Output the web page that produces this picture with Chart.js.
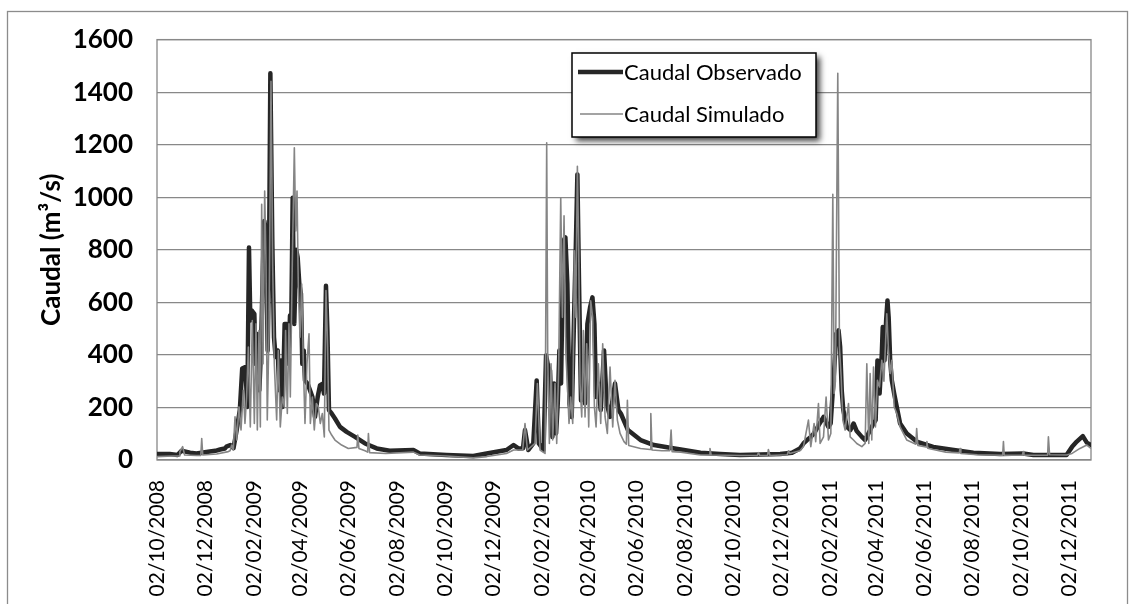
<!DOCTYPE html>
<html>
<head>
<meta charset="utf-8">
<script src="https://cdn.jsdelivr.net/npm/chart.js@4.4.1/dist/chart.umd.min.js"></script>
<style>
  html, body { margin: 0; padding: 0; background: #ffffff; }
  #wrap { position: relative; width: 1132px; height: 604px; }
</style>
</head>
<body>
<div id="wrap"><canvas id="c" width="1132" height="604"></canvas></div>
<script>
// ---------- DATA ----------
const seriesNames = ['Caudal Observado', 'Caudal Simulado'];
const yTitle = 'Caudal (m\u00B3/s)';
const startDate = '02/10/2008';
const endDate = '30/12/2011';
const tickLabels = ['02/10/2008','02/12/2008','02/02/2009','02/04/2009','02/06/2009','02/08/2009',
  '02/10/2009','02/12/2009','02/02/2010','02/04/2010','02/06/2010','02/08/2010',
  '02/10/2010','02/12/2010','02/02/2011','02/04/2011','02/06/2011','02/08/2011',
  '02/10/2011','02/12/2011'];
const yTicks = [0, 200, 400, 600, 800, 1000, 1200, 1400, 1600];

// days since start date
const obsDay = [0,16,26,31,42,50,67,74,80,86,88,93,97,101,105,108,112,114.5,116.6,118.3,120,123.4,125,127,129.7,131.8,134,136,138,140.3,142,143.7,146.2,148.3,150.4,153,155,157.2,159.3,161.8,164.4,166.5,168.6,170.3,172,174,176.5,178.3,180.4,182.5,184.2,186,187.6,191,194,197,200.3,203.7,206.6,209.6,211.7,214.2,216,218,221.4,225.6,232,240.4,251,263.7,278.5,295,325,333,367,401,418,443,452,458,464,466.5,470.8,477,481.3,484,490,493.2,496,498.2,501.2,503.3,505.9,508,510.1,512.2,515.1,517.7,520.2,522.8,525.7,528.7,530.8,532.9,535,537.5,539.5,542.6,545.6,549,552,554.5,556.6,559.5,562.5,566.7,570.1,574.3,580.6,584.9,588,597,613,630,656,664,689,714,739,790,805,815,819.5,824,828,833,840,845,851,854,858.4,861,864,866,868,870,874.5,879,883,887,893.5,897.7,904,908.3,911,913.3,916,918.8,920,922.2,924.3,926,927.5,929.4,931.5,934.5,937.8,942,950.5,963,984,1010,1035,1069,1098,1111,1153,1160,1166,1173.6,1178.7,1184];
const obsVal = [23,23,19,35,28,25,32,35,40,44,51,57,45,114,190,348,354,202,809,531,569,556,366,480,265,417,708,910,872,417,746,1472,821,467,392,417,265,379,202,518,518,366,550,543,998,518,800,771,670,632,366,417,303,290,265,240,164,240,284,290,253,663,493,190,177,158,126,107,88,63,44,35,38,25,19,15,25,38,57,44,45,114,38,63,303,63,38,398,354,341,88,291,101,215,417,291,834,847,670,215,164,543,796,1087,670,227,366,215,518,581,619,518,240,291,190,417,215,164,291,190,177,114,76,57,44,40,28,23,19,23,28,44,63,76,86,101,139,164,126,139,341,480,493,430,265,190,126,114,139,110,88,76,114,139,152,379,253,404,506,379,531,607,543,379,303,253,202,139,101,70,50,38,28,23,25,19,19,50,70,91,66,57];

const simDay = [0,20,28,29,32.5,35,50,55.5,56.7,58,75.6,90.4,92.6,94.7,96.7,98.9,101,104,106.5,109.4,111.5,113.6,115.8,118.3,120.8,123.4,125.5,127.2,129.3,131,132.7,134.4,136.5,138.2,139.8,142,144.5,146.6,148.7,151.7,153.8,156.3,158.9,161.4,163,165.2,167.3,169,171.5,174.1,175.8,177.5,179.2,181.3,183.4,185.5,187.6,190.1,192.7,194.4,196.9,199.4,202,204.5,207,209.6,212.1,214.2,216.3,218,221.4,225.6,234,242.5,253.5,254.5,256,263.7,267,268,269.5,290,325,333,367,401,418,443,452,463.6,466.5,469.5,479.2,482.2,485.6,491.9,494,495.3,497.4,499.5,501.6,504.6,506.7,509.2,511.8,513.9,516,518.1,520.2,522.3,524.4,527,529.1,530.8,532.9,534.6,536.3,538.4,540.5,542.6,544.7,547.3,549.8,552.3,554.5,556.6,559.5,562.5,565,568,570.9,574.3,577.7,580.6,583.6,587,592,595,596.3,598,613,625,626,627.5,640,650,651.7,653,664,689,700,701,702.5,740,761,762.5,764,774,775,777,799,800.5,802,815,819.5,825.8,828.8,833,835,838.5,840.6,844.9,848.2,851.2,854.2,856.7,858.4,860,863,865.1,867.3,869.4,872.3,876.6,878.7,882.9,887.1,893.5,897.7,899.8,902.3,904,906.1,908.3,910.8,913.3,915.9,918.8,921.5,925.1,927.3,929.4,931.5,934.5,937.8,942,950.5,962,963,964.5,975,976,977,984,1000,1017,1018,1019,1040,1072,1073,1074,1097,1098,1099,1129,1130,1131.5,1153,1160,1170,1178.7,1184];
const simVal = [13,15,15,32,51,19,17,17,82,19,23,32,35,57,38,164,76,202,114,265,139,240,430,126,531,139,518,114,493,126,973,366,1024,746,152,493,1441,746,366,152,417,126,240,202,493,177,518,240,746,1188,872,1024,645,467,670,366,139,366,480,139,240,114,215,202,139,177,88,645,430,114,95,76,57,44,48,95,44,35,30,101,28,25,30,19,15,8,13,25,38,38,139,38,63,291,38,25,1207,392,63,366,76,291,63,354,998,543,929,417,291,139,240,139,796,543,1118,796,291,164,493,164,442,126,606,543,202,126,366,139,442,164,101,354,126,303,152,101,70,60,227,55,44,40,177,38,35,35,114,32,30,19,19,44,19,17,17,28,17,17,40,17,20,35,25,35,51,152,51,139,70,215,63,88,240,76,101,1011,253,300,1472,430,316,152,114,215,88,76,63,51,63,366,63,329,76,354,126,303,278,379,300,556,417,329,379,202,177,126,76,60,120,55,50,70,45,40,30,27,44,25,20,18,70,18,18,32,18,18,88,20,19,25,44,57,44];

// ---------- HELPERS ----------
function dayOf(s) {
  const p = s.split('/').map(Number);
  const q = startDate.split('/').map(Number);
  return Math.round((Date.UTC(p[2], p[1] - 1, p[0]) - Date.UTC(q[2], q[1] - 1, q[0])) / 86400000);
}
const tickDays = tickLabels.map(dayOf);
const lastDay = dayOf(endDate);
const toPoints = (xs, ys) => xs.map((x, i) => ({ x: x, y: ys[i] }));

const FONT = 'Lato, "Open Sans", "DejaVu Sans", sans-serif';
const GRID = '#888888';

const framePlugin = {
  id: 'frame',
  beforeDraw(chart) {
    const ctx = chart.ctx;
    ctx.save();
    ctx.fillStyle = '#ffffff';
    ctx.fillRect(0, 0, chart.width, chart.height);
    ctx.strokeStyle = '#8c8c8c';
    ctx.lineWidth = 1.3;
    ctx.strokeRect(7.5, 11.5, 1120, 620);
    ctx.restore();
  },
  beforeDatasetsDraw(chart) {
    const a = chart.chartArea, ctx = chart.ctx;
    ctx.save();
    ctx.strokeStyle = GRID;
    ctx.lineWidth = 1.3;
    ctx.strokeRect(a.left, a.top, a.right - a.left, a.bottom - a.top);
    ctx.restore();
  }
};

const legendPlugin = {
  id: 'boxLegend',
  afterDraw(chart) {
    const ctx = chart.ctx;
    const bx = 572, by = 53, bw = 244, bh = 84;
    ctx.save();
    ctx.shadowColor = 'rgba(0,0,0,0.75)';
    ctx.shadowBlur = 6;
    ctx.shadowOffsetX = 4;
    ctx.shadowOffsetY = 4;
    ctx.fillStyle = '#ffffff';
    ctx.fillRect(bx, by, bw, bh);
    ctx.restore();
    ctx.save();
    ctx.strokeStyle = '#000000';
    ctx.lineWidth = 1.5;
    ctx.strokeRect(bx, by, bw, bh);
    const rows = [chart.data.datasets[1], chart.data.datasets[0]];
    const ys = [72, 114];
    const x0s = [578, 580];
    rows.forEach((ds, i) => {
      ctx.strokeStyle = ds.borderColor;
      ctx.lineWidth = ds.borderWidth;
      ctx.lineCap = 'butt';
      ctx.beginPath();
      ctx.moveTo(x0s[i], ys[i]);
      ctx.lineTo(623, ys[i]);
      ctx.stroke();
      ctx.fillStyle = '#000000';
      ctx.font = '22px ' + FONT;
      ctx.textBaseline = 'alphabetic';
      ctx.textAlign = 'left';
      ctx.fillText(ds.label, 624, ys[i] + 8);
    });
    ctx.restore();
  }
};

function draw() {
  const ctx = document.getElementById('c').getContext('2d');
  new Chart(ctx, {
    type: 'line',
    data: {
      datasets: [
        {
          label: seriesNames[1],
          data: toPoints(simDay, simVal),
          borderColor: '#858585',
          borderWidth: 1.6,
          pointRadius: 0,
          tension: 0,
          fill: false,
          order: 1,
          borderJoinStyle: 'round'
        },
        {
          label: seriesNames[0],
          data: toPoints(obsDay, obsVal),
          borderColor: '#262626',
          borderWidth: 4.5,
          pointRadius: 0,
          tension: 0,
          fill: false,
          order: 2,
          borderJoinStyle: 'round',
          borderCapStyle: 'round'
        }
      ]
    },
    options: {
      responsive: false,
      animation: false,
      devicePixelRatio: 1,
      layout: { padding: { left: 0, right: 41, top: 38, bottom: 0 } },
      plugins: { legend: { display: false }, tooltip: { enabled: false } },
      scales: {
        x: {
          type: 'linear',
          min: 0,
          max: lastDay,
          grid: { display: false, drawTicks: false },
          border: { display: false },
          afterBuildTicks(scale) { scale.ticks = tickDays.map(v => ({ value: v })); },
          afterFit(scale) { scale.height = 144; },
          ticks: {
            autoSkip: false,
            minRotation: 90,
            maxRotation: 90,
            padding: 20,
            color: '#000000',
            font: { family: FONT, size: 21 },
            callback: (v, i) => tickLabels[i]
          }
        },
        y: {
          type: 'linear',
          min: yTicks[0],
          max: yTicks[yTicks.length - 1],
          afterBuildTicks(scale) { scale.ticks = yTicks.map(v => ({ value: v })); },
          afterFit(scale) { scale.width = 157; },
          grid: { color: GRID, lineWidth: 1.3, drawTicks: false },
          border: { display: false },
          ticks: {
            padding: 24,
            color: '#000000',
            font: { family: FONT, size: 26, weight: 'bold' },
            callback: v => String(v)
          },
          title: {
            display: true,
            text: yTitle,
            color: '#000000',
            font: { family: FONT, size: 26, weight: 'bold' },
            padding: { top: 36, bottom: 0 }
          }
        }
      }
    },
    plugins: [framePlugin, legendPlugin]
  });
}

Promise.all([
  document.fonts.load('bold 26px Lato'),
  document.fonts.load('22px Lato')
]).then(draw, draw);
</script>
</body>
</html>
